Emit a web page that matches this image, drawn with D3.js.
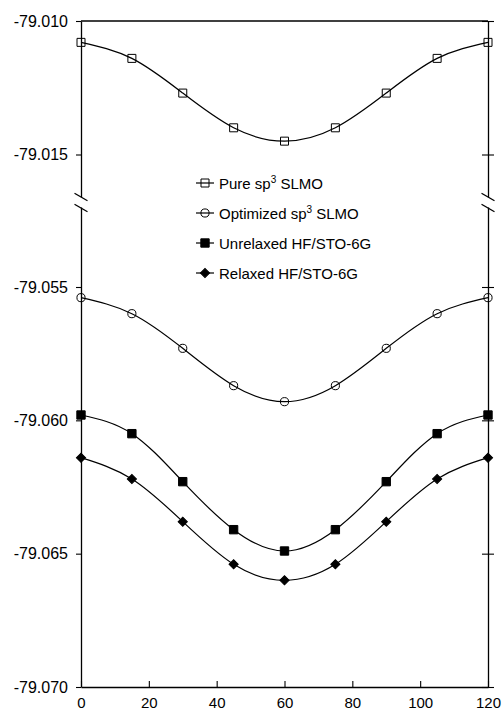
<!DOCTYPE html>
<html>
<head>
<meta charset="utf-8">
<script src="https://cdn.jsdelivr.net/npm/d3@7"></script>
<style>
  body { margin: 0; background: #fff; }
  text { font-family: "Liberation Sans", Arial, sans-serif; fill: #000; }
</style>
</head>
<body>
<div id="chart"></div>
<script>
const angles = [0, 15, 30, 45, 60, 75, 90, 105, 120];
const pure      = [-79.0108, -79.0114, -79.0127, -79.0140, -79.0145, -79.0140, -79.0127, -79.0114, -79.0108];
const optimized = [-79.0554, -79.0560, -79.0573, -79.0587, -79.0593, -79.0587, -79.0573, -79.0560, -79.0554];
const unrelaxed = [-79.0598, -79.0605, -79.0623, -79.0641, -79.0649, -79.0641, -79.0623, -79.0605, -79.0598];
const relaxed   = [-79.0614, -79.0622, -79.0638, -79.0654, -79.0660, -79.0654, -79.0638, -79.0622, -79.0614];

const seriesNames = ['Pure sp', 'Optimized sp', 'Unrelaxed HF/STO-6G', 'Relaxed HF/STO-6G'];
const xTicks = [0, 20, 40, 60, 80, 100, 120];
const yTicksTop = [-79.010, -79.015];
const yTicksBottom = [-79.055, -79.060, -79.065, -79.070];

const W = 503, H = 719;
const LEFT = 81, RIGHT = 488, TOP = 21, BOTTOM = 687;
const BREAK_TOP = 197, BREAK_BOTTOM = 207;

const svg = d3.select('#chart').append('svg')
  .attr('width', W)
  .attr('height', H);

const x = d3.scaleLinear().domain([0, 120]).range([LEFT, RIGHT]);
// broken y axis: two segments with the same px per unit
const yTop = d3.scaleLinear().domain([-79.010, -79.015]).range([TOP, 154.5]);
yTop.domain([-79.010, yTop.invert(BREAK_TOP)]).range([TOP, BREAK_TOP]);
const yBot = d3.scaleLinear().domain([-79.055, -79.070]).range([287, BOTTOM]);
yBot.domain([yBot.invert(BREAK_BOTTOM), -79.070]).range([BREAK_BOTTOM, BOTTOM]);

const series = [
  { name: seriesNames[0], values: pure, scale: yTop, shape: 'square', fill: 'none' },
  { name: seriesNames[1], values: optimized, scale: yBot, shape: 'circle', fill: 'none' },
  { name: seriesNames[2], values: unrelaxed, scale: yBot, shape: 'square', fill: '#000' },
  { name: seriesNames[3], values: relaxed, scale: yBot, shape: 'diamond', fill: '#000' }
];

function marker(sel, s) {
  if (s.shape === 'circle') {
    sel.attr('d', d3.symbol(d3.symbolCircle, 52)());
  } else if (s.shape === 'square') {
    sel.attr('d', d3.symbol(d3.symbolSquare, s.fill === 'none' ? 64 : 70)());
  } else {
    sel.attr('d', d3.symbol(d3.symbolSquare, 42)());
  }
  sel.style('fill', s.fill)
    .style('stroke', '#000')
    .style('stroke-width', 1);
}

// Frame top line
svg.append('line')
  .attr('x1', LEFT).attr('x2', RIGHT)
  .attr('y1', TOP).attr('y2', TOP)
  .style('stroke', '#000').style('stroke-width', 1.3);

// Left axes
const fmt = d => d.toFixed(3);
function styleAxis(g) {
  g.select('.domain').style('stroke-width', 1.3);
  g.selectAll('.tick line').style('stroke-width', 1.1);
  g.selectAll('text').style('font-size', '16px').style('font-family', '"Liberation Sans", Arial, sans-serif');
}

svg.append('g')
  .attr('transform', `translate(${LEFT},0)`)
  .call(d3.axisLeft(yTop).tickValues(yTicksTop).tickFormat(fmt).tickSize(5).tickSizeOuter(0).tickPadding(8))
  .call(styleAxis);
svg.append('g')
  .attr('transform', `translate(${LEFT},0)`)
  .call(d3.axisLeft(yBot).tickValues(yTicksBottom).tickFormat(fmt).tickSize(5).tickSizeOuter(0).tickPadding(8))
  .call(styleAxis);

// Right axes (ticks cross the line)
for (let [sc, tv] of [[yTop, yTicksTop], [yBot, yTicksBottom]]) {
  svg.append('g')
    .attr('transform', `translate(${RIGHT},0)`)
    .call(d3.axisRight(sc).tickValues(tv).tickFormat('').tickSize(6).tickSizeOuter(0))
    .call(styleAxis)
    .selectAll('.tick line').attr('x1', -6);
}

// Bottom axis
svg.append('g')
  .attr('transform', `translate(0,${BOTTOM})`)
  .call(d3.axisBottom(x).tickValues(xTicks).tickSizeInner(-6).tickSizeOuter(0).tickPadding(10))
  .call(styleAxis)
  .selectAll('text').style('font-size', '15px');

// Break marks
for (let ax of [LEFT, RIGHT]) {
  for (let by of [BREAK_TOP, BREAK_BOTTOM + 1]) {
    svg.append('line')
      .attr('x1', ax - 6.5).attr('y1', by - 3.7)
      .attr('x2', ax + 6.5).attr('y2', by + 3.7)
      .style('stroke', '#000').style('stroke-width', 1.3);
  }
}

// Curves and markers
for (let s of series) {
  let pts = angles.map((a, i) => [a, s.values[i]]);
  let line = d3.line()
    .x(d => x(d[0]))
    .y(d => s.scale(d[1]))
    .curve(d3.curveNatural);
  svg.append('path')
    .attr('d', line(pts))
    .style('fill', 'none')
    .style('stroke', '#000')
    .style('stroke-width', 1.2);

  svg.selectAll(null)
      .data(pts)
    .enter().append('path')
      .attr('transform', d => `translate(${x(d[0])},${s.scale(d[1])})` + (s.shape === 'diamond' ? ' rotate(45)' : ''))
      .call(marker, s);
}

// Legend
const legend = svg.append('g').attr('transform', 'translate(196,183)');
series.forEach((s, i) => {
  let g = legend.append('g').attr('transform', `translate(0,${i * 30})`);
  g.append('line')
    .attr('x1', 0).attr('x2', 18)
    .attr('y1', 0).attr('y2', 0)
    .style('stroke', '#000').style('stroke-width', 1.2);
  g.append('path')
    .attr('transform', 'translate(9,0)' + (s.shape === 'diamond' ? ' rotate(45)' : ''))
    .call(marker, s);
  let t = g.append('text')
    .attr('x', 23)
    .attr('y', 5.5)
    .style('font-size', '15px');
  if (i < 2) {
    t.append('tspan').text(s.name);
    t.append('tspan').text('3').attr('dy', -6).style('font-size', '10px');
    t.append('tspan').text(' SLMO').attr('dy', 6);
  } else {
    t.text(s.name);
  }
});
</script>
</body>
</html>
